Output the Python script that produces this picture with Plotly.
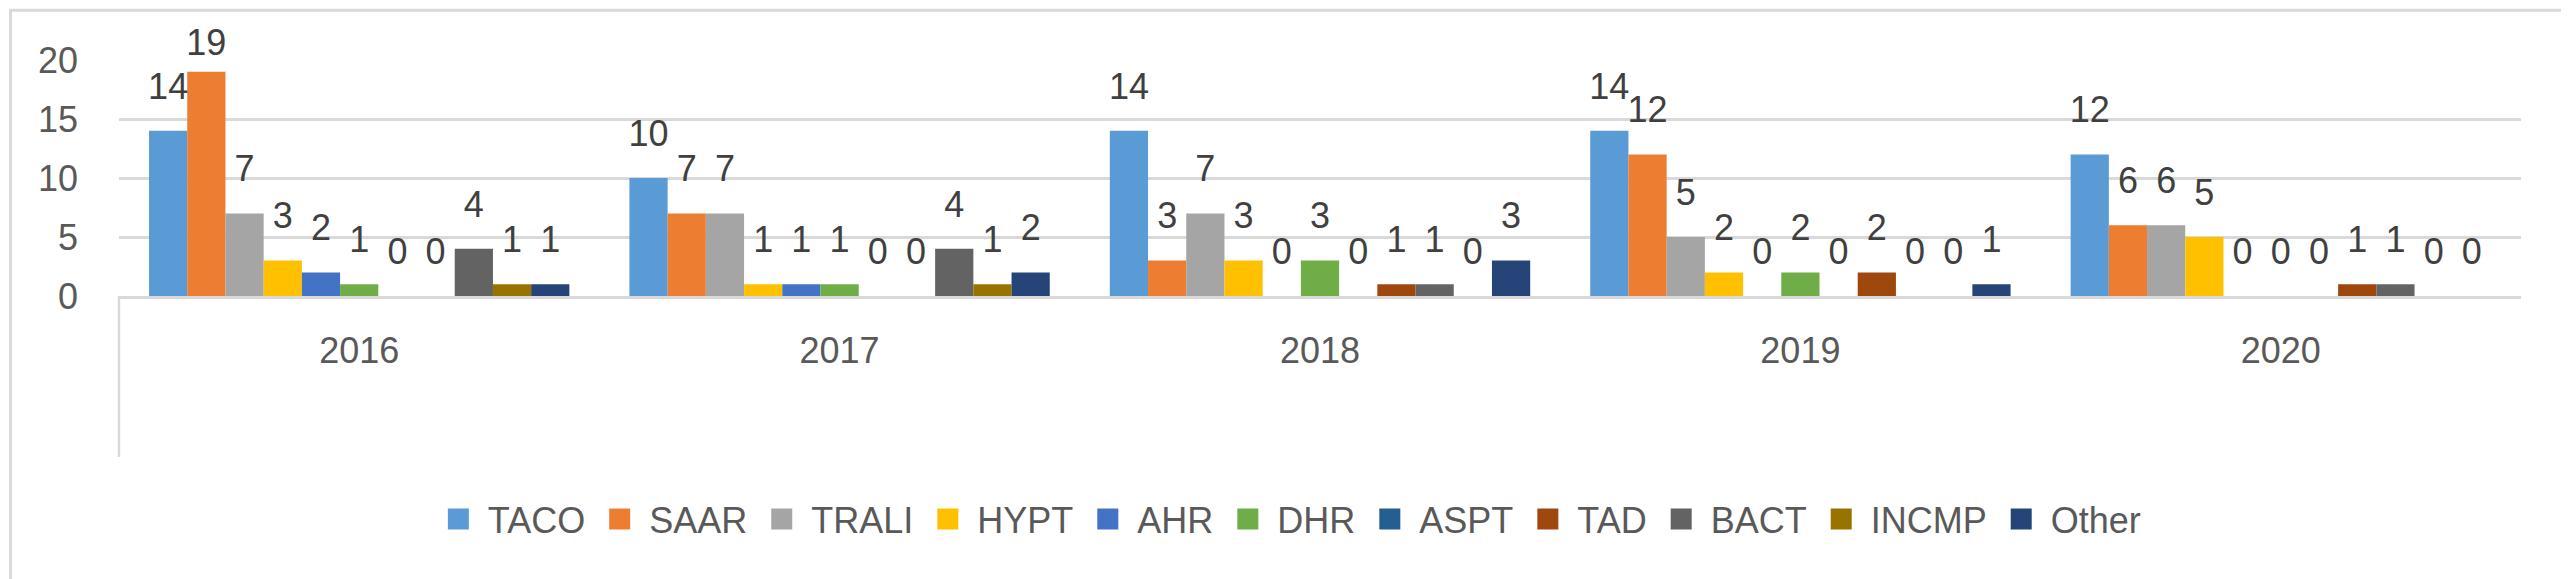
import plotly.graph_objects as go

years = ["2016", "2017", "2018", "2019", "2020"]
series = ["TACO", "SAAR", "TRALI", "HYPT", "AHR", "DHR", "ASPT", "TAD", "BACT", "INCMP", "Other"]
TACO = [14, 10, 14, 14, 12]
SAAR = [19, 7, 3, 12, 6]
TRALI = [7, 7, 7, 5, 6]
HYPT = [3, 1, 3, 2, 5]
AHR = [2, 1, 0, 0, 0]
DHR = [1, 1, 3, 2, 0]
ASPT = [0, 0, 0, 0, 0]
TAD = [0, 0, 1, 2, 1]
BACT = [4, 4, 1, 0, 1]
INCMP = [1, 1, 0, 0, 0]
Other = [1, 2, 3, 1, 0]
values = [TACO, SAAR, TRALI, HYPT, AHR, DHR, ASPT, TAD, BACT, INCMP, Other]
colors = ["#5B9BD5", "#ED7D31", "#A5A5A5", "#FFC000", "#4472C4", "#70AD47",
          "#255E91", "#9E480E", "#636363", "#997300", "#264478"]
y_ticks = [0, 5, 10, 15, 20]

FONT = "Liberation Sans, Arial, sans-serif"
FS = 36
W, H = 2569, 579
x0, x1 = 111 / W, 2513 / W
yb, yt = 1 - 288 / H, 1 - 52 / H
PAD = 1.8          # label offset above bar end (axis units)
LABEL_CEIL = 19.5  # keep labels inside chart area

fig = go.Figure()
for i, (name, vals, col) in enumerate(zip(series, values, colors)):
    fig.add_trace(go.Bar(
        x=years, y=vals, name=name, offsetgroup=str(i), showlegend=False,
        marker=dict(color=col, line=dict(width=0)),
        hoverinfo="skip",
    ))
for i, (name, vals, col) in enumerate(zip(series, values, colors)):
    pads = [min(PAD, LABEL_CEIL - v) for v in vals]
    fig.add_trace(go.Bar(
        x=years, y=pads, base=vals, offsetgroup=str(i), showlegend=False,
        marker=dict(color="rgba(0,0,0,0)", line=dict(width=0)),
        text=[str(v) for v in vals], textposition="outside",
        textfont=dict(family=FONT, size=FS, color="#404040"),
        constraintext="none", cliponaxis=False, hoverinfo="skip",
    ))
# legend entries (square swatches like Excel)
for name, col in zip(series, colors):
    fig.add_trace(go.Scatter(
        x=[None], y=[None], name=name, mode="markers",
        marker=dict(symbol="square", size=16, color=col, line=dict(color=col, width=5)),
        hoverinfo="skip",
    ))

fig.update_layout(
    width=W, height=H,
    margin=dict(l=0, r=0, t=0, b=0, autoexpand=False),
    paper_bgcolor="white", plot_bgcolor="white",
    barmode="group", bargap=0.125, bargroupgap=0,
    font=dict(family=FONT, size=FS, color="#595959"),
    showlegend=True,
    legend=dict(orientation="h", x=0.498, xanchor="center", y=1 - 511 / H, yanchor="middle",
                font=dict(family=FONT, size=FS, color="#595959"), bgcolor="rgba(0,0,0,0)",
                traceorder="normal", itemwidth=49, itemsizing="trace"),
    xaxis=dict(domain=[x0, x1], showgrid=False, showline=True, linecolor="#D9D9D9", linewidth=3,
               ticks="", ticklabelstandoff=21, automargin=False,
               tickfont=dict(family=FONT, size=FS, color="#595959"), fixedrange=True),
    yaxis=dict(domain=[yb, yt], range=[0, 20], tickvals=y_ticks, showgrid=True, gridcolor="#D9D9D9",
               gridwidth=2.5, zeroline=False, showline=False, ticks="", ticklabelstandoff=40,
               automargin=False,
               tickfont=dict(family=FONT, size=FS, color="#595959"), fixedrange=True),
    shapes=[
        dict(type="rect", xref="paper", yref="paper", x0=0.001, x1=0.998, y0=0.003, y1=0.996,
             line=dict(color="#D9D9D9", width=3), fillcolor="rgba(0,0,0,0)", layer="below"),
        dict(type="line", xref="paper", yref="paper", x0=x0, x1=x0, y0=yb, y1=1 - 449 / H,
             line=dict(color="#D9D9D9", width=2.5)),
    ],
)

fig.write_html("out.html")
